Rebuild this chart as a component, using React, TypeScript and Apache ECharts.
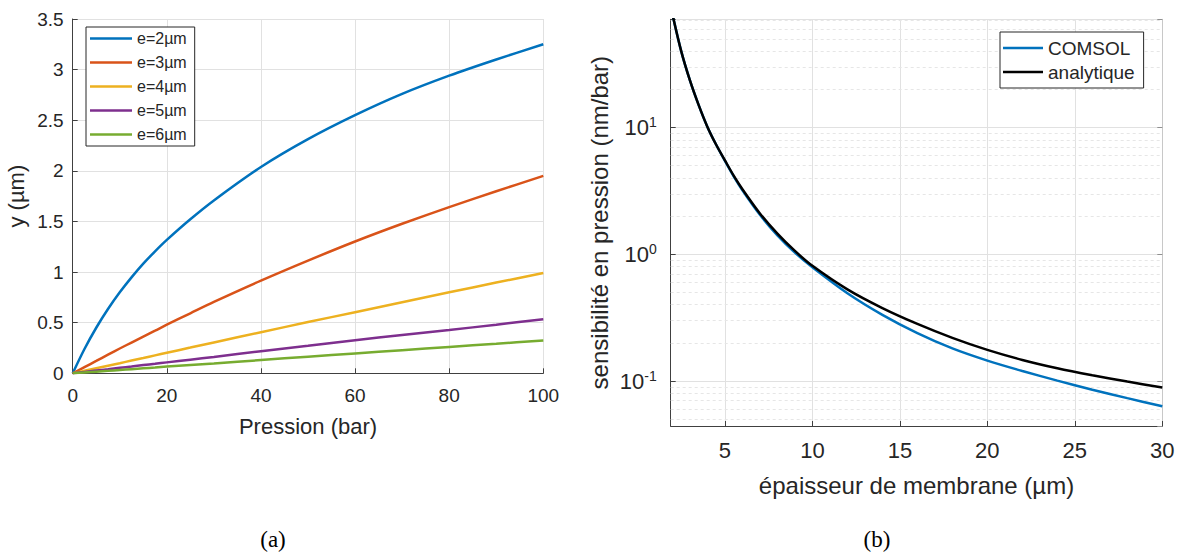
import React, { useEffect, useRef } from "react";
import * as echarts from "echarts";

// ---------- Data (a) ----------
const pressure = [0, 2.5, 5, 7.5, 10, 12.5, 15, 17.5, 20, 25, 30, 40, 50, 60, 70, 80, 90, 100];
const e2 = [0, 0.24, 0.45, 0.635, 0.8, 0.948, 1.083, 1.205, 1.318, 1.522, 1.708, 2.038, 2.313, 2.55, 2.76, 2.94, 3.1, 3.25];
const e3 = [0, 0.061, 0.122, 0.184, 0.245, 0.304, 0.363, 0.421, 0.48, 0.593, 0.705, 0.915, 1.113, 1.302, 1.477, 1.642, 1.798, 1.95];
const e4 = [0, 0.025, 0.05, 0.075, 0.1, 0.126, 0.151, 0.177, 0.203, 0.254, 0.305, 0.406, 0.506, 0.604, 0.702, 0.8, 0.896, 0.99];
const e5 = [0, 0.014, 0.027, 0.04, 0.054, 0.067, 0.081, 0.094, 0.108, 0.135, 0.162, 0.218, 0.272, 0.327, 0.378, 0.428, 0.48, 0.535];
const e6 = [0, 0.008, 0.016, 0.024, 0.033, 0.041, 0.049, 0.057, 0.066, 0.082, 0.098, 0.131, 0.164, 0.196, 0.228, 0.26, 0.292, 0.325];
const leftNames = ["e=2µm", "e=3µm", "e=4µm", "e=5µm", "e=6µm"];
const leftColors = ["#0072BD", "#D95319", "#EDB120", "#7E2F8E", "#77AC30"];

// ---------- Data (b) ----------
const thickness = [2, 2.5, 3, 3.5, 4, 4.5, 5, 5.5, 6, 7, 8, 9, 10, 12, 14, 16, 18, 20, 22, 24, 26, 28, 30];
const comsol = [78, 40, 23.5, 15, 10.1, 7.3, 5.45, 4.12, 3.2, 2.05, 1.41, 1.03, 0.79, 0.493, 0.333, 0.239, 0.181, 0.145, 0.12, 0.1007, 0.0855, 0.0733, 0.0632];
const analytique = [78, 40, 23.5, 15, 10.1, 7.3, 5.5, 4.17, 3.26, 2.1, 1.455, 1.062, 0.81, 0.528, 0.376, 0.282, 0.219, 0.176, 0.1466, 0.126, 0.111, 0.099, 0.089];
const rightNames = ["COMSOL", "analytique"];
const rightColors = ["#0072BD", "#000000"];
const minorGrid = [0.05, 0.06, 0.07, 0.08, 0.09, 0.2, 0.3, 0.4, 0.5, 0.6, 0.7, 0.8, 0.9, 2, 3, 4, 5, 6, 7, 8, 9, 20, 30, 40, 50, 60, 70];

const SANS = '"Liberation Sans", Arial, Helvetica, sans-serif';
const SERIF = '"Liberation Serif", "Times New Roman", serif';
const TXT = "#262626";
const AXIS = "#404040";
const GRID = "#e1e1e1";

export default function App() {
  const ref = useRef<HTMLDivElement>(null);
  useEffect(() => {
    if (!ref.current) return;
    const chart = echarts.init(ref.current, undefined, { renderer: "svg" });
    const leftSeries = [e2, e3, e4, e5, e6].map((arr, k) => ({
      name: leftNames[k],
      type: "line",
      xAxisIndex: 0,
      yAxisIndex: 0,
      data: pressure.map((p, i) => [p, arr[i]]),
      symbol: "none",
      showSymbol: false,
      smooth: 0.3,
      lineStyle: { width: 2.5, color: leftColors[k] },
      itemStyle: { color: leftColors[k] },
      z: 3,
    }));
    const rightSeries = [comsol, analytique].map((arr, k) => ({
      name: rightNames[k],
      type: "line",
      xAxisIndex: 1,
      yAxisIndex: 1,
      data: thickness.map((t, i) => [t, arr[i]]),
      symbol: "none",
      showSymbol: false,
      smooth: 0.3,
      lineStyle: { width: 2.5, color: rightColors[k] },
      itemStyle: { color: rightColors[k] },
      z: 3 + k,
    }));
    const minorSeries = {
      name: "minor",
      type: "line",
      xAxisIndex: 1,
      yAxisIndex: 1,
      data: [],
      z: 1,
      markLine: {
        silent: true,
        z: 1,
        symbol: "none",
        label: { show: false },
        lineStyle: { color: "#e6e6e6", type: [3, 3], width: 1 },
        data: minorGrid.map((v) => ({ yAxis: v })),
      },
    };
    const logLabel = (v: number) => {
      const l = Math.log10(v);
      const r = Math.round(l);
      if (Math.abs(l - r) > 1e-6) return "";
      return `{b|10}{s|${r}}`;
    };
    const option: any = {
      animation: false,
      backgroundColor: "#ffffff",
      textStyle: { fontFamily: SANS },
      grid: [
        { left: 72.7, top: 19, width: 470.6, height: 354.3 },
        { left: 670.7, top: 19.3, width: 491.6, height: 406.7 },
      ],
      xAxis: [
        {
          gridIndex: 0,
          type: "value",
          min: 0,
          max: 100,
          interval: 20,
          name: "Pression (bar)",
          nameLocation: "middle",
          nameGap: 42,
          nameTextStyle: { fontSize: 22, color: TXT, fontFamily: SANS },
          axisLine: { show: true, onZero: false, lineStyle: { color: AXIS } },
          axisTick: { show: true, inside: true, length: 5, lineStyle: { color: AXIS } },
          axisLabel: { fontSize: 19, color: TXT, margin: 13, fontFamily: SANS },
          splitLine: { show: true, lineStyle: { color: GRID } },
        },
        {
          gridIndex: 1,
          type: "value",
          min: 1.9,
          max: 30,
          name: "épaisseur de membrane (µm)",
          nameLocation: "middle",
          nameGap: 47,
          nameTextStyle: { fontSize: 24, color: TXT, fontFamily: SANS },
          axisLine: { show: true, onZero: false, lineStyle: { color: AXIS } },
          axisTick: { show: true, inside: true, length: 5, lineStyle: { color: AXIS } },
          axisLabel: { fontSize: 22, color: TXT, margin: 13, showMinLabel: false, fontFamily: SANS },
          splitLine: { show: true, lineStyle: { color: GRID } },
        },
      ],
      yAxis: [
        {
          gridIndex: 0,
          type: "value",
          min: 0,
          max: 3.5,
          interval: 0.5,
          name: "y (µm)",
          nameLocation: "middle",
          nameGap: 45,
          nameTextStyle: { fontSize: 22, color: TXT, fontFamily: SANS },
          axisLine: { show: true, onZero: false, lineStyle: { color: AXIS } },
          axisTick: { show: true, inside: true, length: 5, lineStyle: { color: AXIS } },
          axisLabel: { fontSize: 19, color: TXT, margin: 9, fontFamily: SANS },
          splitLine: { show: true, lineStyle: { color: GRID } },
        },
        {
          gridIndex: 1,
          type: "log",
          logBase: 10,
          min: 0.0442,
          max: 71.3,
          name: "sensibilité en pression (nm/bar)",
          nameLocation: "middle",
          nameGap: 59,
          nameTextStyle: { fontSize: 24, color: TXT, fontFamily: SANS },
          axisLine: { show: true, onZero: false, lineStyle: { color: AXIS } },
          axisTick: { show: true, inside: true, length: 5, lineStyle: { color: AXIS } },
          axisLabel: {
            margin: 14,
            color: TXT,
            formatter: logLabel,
            rich: {
              b: { fontSize: 22, color: TXT, fontFamily: SANS, lineHeight: 24 },
              s: { fontSize: 14, color: TXT, fontFamily: SANS, verticalAlign: "top", lineHeight: 14 },
            },
          },
          splitLine: { show: true, lineStyle: { color: GRID } },
        },
        {
          gridIndex: 1,
          type: "log",
          logBase: 10,
          min: 0.0442,
          max: 71.3,
          position: "right",
          axisLine: { show: true, onZero: false, lineStyle: { color: "#c8c8c8" } },
          axisTick: { show: true, inside: true, length: 5, lineStyle: { color: "#909090" } },
          axisLabel: { show: false },
          splitLine: { show: false },
        },
      ],
      legend: [
        {
          data: leftNames,
          left: 86,
          top: 27,
          orient: "vertical",
          icon: "rect",
          itemWidth: 42,
          itemHeight: 2.5,
          itemGap: 7,
          padding: [3, 8, 3, 4],
          borderColor: TXT,
          borderWidth: 1,
          backgroundColor: "#ffffff",
          textStyle: { fontSize: 16, lineHeight: 17, color: TXT, fontFamily: SANS },
        },
        {
          data: rightNames,
          left: 1000,
          top: 32,
          orient: "vertical",
          icon: "rect",
          itemWidth: 40,
          itemHeight: 2.5,
          itemGap: 4,
          padding: [6, 9, 6, 3],
          borderColor: TXT,
          borderWidth: 1,
          backgroundColor: "#ffffff",
          textStyle: { fontSize: 19, lineHeight: 20, color: TXT, fontFamily: SANS },
        },
      ],
      graphic: [
        {
          type: "text",
          x: 273,
          y: 539,
          style: { text: "(a)", font: `23px ${SERIF}`, fill: "#000", align: "center", verticalAlign: "middle" },
        },
        {
          type: "text",
          x: 877,
          y: 539,
          style: { text: "(b)", font: `23px ${SERIF}`, fill: "#000", align: "center", verticalAlign: "middle" },
        },
      ],
      series: [...leftSeries, minorSeries, ...rightSeries],
    };
    chart.setOption(option);
    return () => chart.dispose();
  }, []);
  return (
    <div
      ref={ref}
      style={{ position: "fixed", left: 0, top: 0, width: 1185, height: 552, background: "#fff" }}
    />
  );
}
